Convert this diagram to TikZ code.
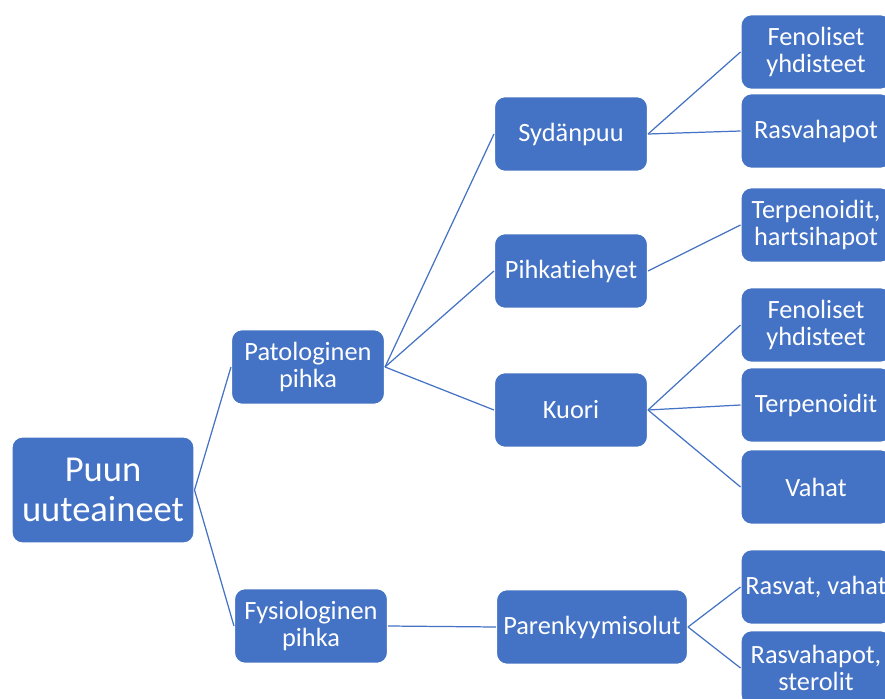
\documentclass[tikz,border=0pt]{standalone}
\usepackage{fontspec}
\setmainfont{Carlito}[Ligatures=NoCommon]
\usetikzlibrary{calc}

\definecolor{laatikko}{HTML}{4472C4}

\begin{document}
\begin{tikzpicture}[x=0.02cm, y=-0.02cm,
laatikko/.style = {rectangle, rounded corners = 6, fill = laatikko, draw = white, line width = .6pt,
	text = white, align = center, inner sep = 1pt, minimum width = 3.06cm, minimum height = 1.49cm, font = \fontsize{15}{15.5}\selectfont},
juuri/.style = {laatikko, minimum width = 3.64cm, minimum height = 2.12cm, font = \fontsize{20.8}{22.8}\selectfont},
lehti/.style = {laatikko, minimum width = 3.0cm},
viiva/.style = {draw = laatikko, line width = .7pt}
]
\useasboundingbox (0,0) rectangle (885,699);
\clip (0,0) rectangle (885,699);

% juuri ja oksat
\node[juuri] (puu) at (103,490) {Puun\\uuteaineet};
\node[laatikko] (pato) at (308,367) {Patologinen\\pihka};
\node[laatikko] (fysio) at (311,626) {Fysiologinen\\pihka};

\node[laatikko] (syd) at (571,134) {Sydänpuu};
\node[laatikko] (pihk) at (571,271) {Pihkatiehyet};
\node[laatikko] (kuori) at (571,410) {Kuori};
\node[laatikko, minimum width = 3.82cm] (paren) at (592,627) {Parenkyymisolut};

% lehdet
\node[lehti] (l1) at (816,52) {Fenoliset\\yhdisteet};
\node[lehti] (l2) at (816,131) {Rasvahapot};
\node[lehti] (l3) at (816,225) {Terpenoidit,\\hartsihapot};
\node[lehti] (l4) at (816,325) {Fenoliset\\yhdisteet};
\node[lehti] (l5) at (816,405) {Terpenoidit};
\node[lehti] (l6) at (816,487) {Vahat};
\node[lehti] (l7) at (816,587) {Rasvat, vahat};
\node[lehti] (l8) at (816,668) {Rasvahapot,\\sterolit};

% viivat
\foreach \a/\b in {puu/pato, puu/fysio, pato/syd, pato/pihk, pato/kuori, fysio/paren,
	syd/l1, syd/l2, pihk/l3, kuori/l4, kuori/l5, kuori/l6, paren/l7, paren/l8}{
	\draw[viiva] (\a.east) -- (\b.west);
}
\end{tikzpicture}
\end{document}
